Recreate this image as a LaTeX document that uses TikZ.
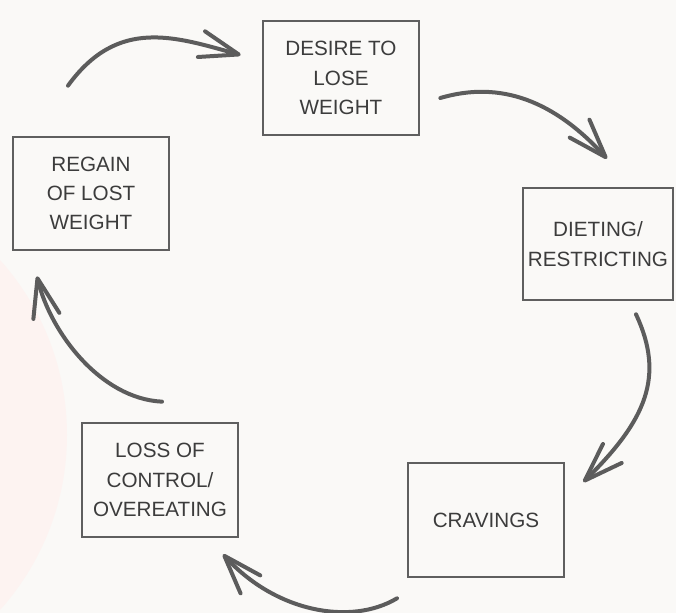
\documentclass[tikz,border=0pt]{standalone}
\usepackage{amsmath}
\usepackage{xcolor}
\usepackage{fontspec}
\setmainfont{Liberation Sans}
\usepackage{tikz}
\usetikzlibrary{arrows.meta,calc}

\definecolor{bgcol}{RGB}{250,249,247}
\definecolor{pinkcol}{RGB}{253,243,241}
\definecolor{boxgray}{RGB}{95,95,95}
\definecolor{arrowgray}{RGB}{92,92,92}
\definecolor{textgray}{RGB}{60,60,60}

\tikzset{
  stage/.style={draw=boxgray, line width=2pt, minimum width=117pt, minimum height=85.5pt,
    align=center, inner sep=0pt, text=textgray, font=\fontsize{15.5pt}{22pt}\selectfont},
  cycarrow/.style={draw=arrowgray, line width=3pt, line cap=round,
    -{Straight Barb[length=29pt,width=20pt,line width=3pt,round]}}
}

\begin{document}
\begin{tikzpicture}[x=0.75pt,y=0.75pt,yscale=-1,xscale=1]
%set diagram left start at 0, and has height of 613
\useasboundingbox (0,0) rectangle (676,613);

%Shape: Background
\fill [bgcol] (0,0) rectangle (676,613);
%Shape: Circle
\fill [pinkcol] (-195,435) circle [radius=196.5pt];

% Text Node
\draw (341,78) node [stage] (desire) {DESIRE TO\\LOSE\\WEIGHT};
% Text Node
\draw (598,244) node [stage, minimum width=112.5pt, minimum height=84pt] (dieting) {DIETING/\\RESTRICTING};
% Text Node
\draw (486,520) node [stage] (cravings) {CRAVINGS};
% Text Node
\draw (160,480) node [stage] (loss) {LOSS OF\\CONTROL/\\OVEREATING};
% Text Node
\draw (91,193.5) node [stage, minimum height=84.75pt] (regain) {REGAIN\\OF LOST\\WEIGHT};

%Curve Lines
\draw [cycarrow] ($(regain.north)+(-23,-50)$) .. controls +(50,-69) and +(-65,-18) .. ($(desire.west)+(-21,-23)$);
%Curve Lines
\draw [cycarrow] ($(desire.east)+(20,20)$) .. controls +(61,-18) and +(-52,-57) .. ($(dieting.north)+(9,-28)$);
%Curve Lines
\draw [cycarrow] ($(dieting.south)+(38,13)$) .. controls +(29,62) and +(63,-62) .. ($(cravings.east)+(18,-38)$);
%Curve Lines
\draw [cycarrow] ($(cravings.south)+(-89,20)$) .. controls +(-47,28) and +(52,57) .. ($(loss.south)+(63,16)$);
%Curve Lines
\draw [cycarrow] ($(loss.north)+(2,-20)$) .. controls +(-62,-3) and +(13,55) .. ($(regain.south)+(-54,25)$);
\end{tikzpicture}
\end{document}
